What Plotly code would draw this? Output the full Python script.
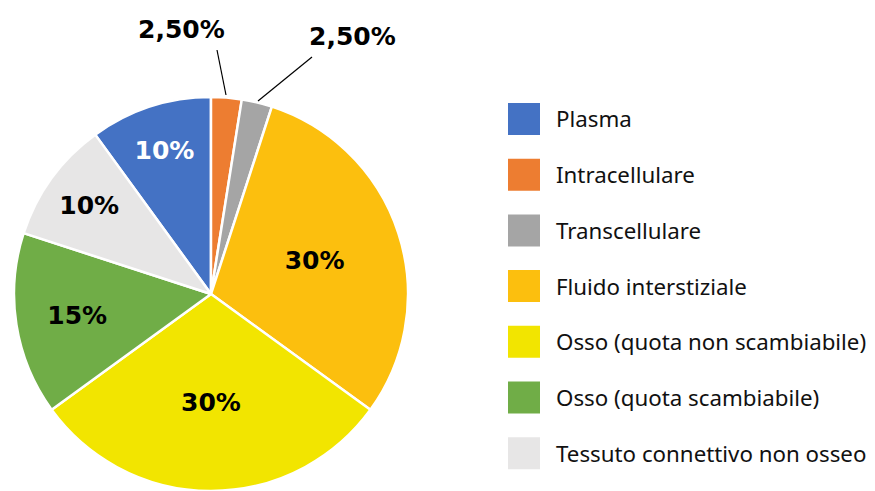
import plotly.graph_objects as go

# ---- data ----
categories = ["Plasma", "Intracellulare", "Transcellulare", "Fluido interstiziale",
              "Osso (quota non scambiabile)", "Osso (quota scambiabile)",
              "Tessuto connettivo non osseo"]
values = [10, 2.5, 2.5, 30, 30, 15, 10]
colors = ["#4472C4", "#ED7D31", "#A5A5A5", "#FCBF0E", "#F2E500", "#70AD47", "#E7E6E6"]
label_colors = ["white", "black", "black", "black", "black", "black", "black"]

W, H = 875, 491


def px(x):
    return x / W


def py(y):
    return 1 - y / H


def fmt(v):
    return f"{v:.2f}".replace(".", ",") + "%" if v < 5 else f"{v:g}%"


texts = [fmt(v) for v in values]
small = [i for i, v in enumerate(values) if v < 5]
inside_texts = ["" if i in small else t for i, t in enumerate(texts)]

LABEL_FONT = "DejaVu Sans"

# pie geometry (window pixels)
cx, cy, r = 211, 294, 197

fig = go.Figure(go.Pie(
    labels=categories, values=values, sort=False, direction="clockwise",
    rotation=-360 * values[0] / sum(values),
    marker=dict(colors=colors, line=dict(color="white", width=2.5)),
    text=inside_texts, textinfo="text", textposition="inside",
    insidetextorientation="horizontal",
    textfont=dict(family=LABEL_FONT, size=25, color=label_colors, weight="bold"),
    domain=dict(x=[px(cx - r), px(cx + r)], y=[max(0, py(cy + r)), py(cy - r)]),
    showlegend=False, hoverinfo="label+percent",
))

# outside labels for small slices with leader lines
label_px = [(181, 30), (352, 36)]
line_px = [((217, 50), (226, 95)), ((312, 57), (258, 101))]
for k, i in enumerate(small):
    tx, ty = label_px[k]
    fig.add_annotation(x=px(tx), y=py(ty), xref="paper", yref="paper",
                       xanchor="center", yanchor="middle",
                       text=texts[i], showarrow=False,
                       font=dict(family=LABEL_FONT, size=25, color="black", weight="bold"))
    (x0, y0), (x1, y1) = line_px[k]
    fig.add_shape(type="line", xref="paper", yref="paper",
                  x0=px(x0), y0=py(y0), x1=px(x1), y1=py(y1),
                  line=dict(color="black", width=1.2))

# custom legend
sq = 32
lx = 508
y_first, step = 119, 55.7
for i, (c, name) in enumerate(zip(colors, categories)):
    yc = y_first + i * step
    fig.add_shape(type="rect", xref="paper", yref="paper",
                  x0=px(lx), x1=px(lx + sq),
                  y0=py(yc - sq / 2), y1=py(yc + sq / 2),
                  fillcolor=c, line=dict(width=0))
    fig.add_annotation(x=px(554), y=py(yc), xref="paper", yref="paper",
                       xanchor="left", yanchor="middle", text=name, showarrow=False,
                       font=dict(family="Noto Sans", size=22.3, color="#111111"))

fig.update_layout(width=W, height=H, margin=dict(l=0, r=0, t=0, b=0),
                  paper_bgcolor="white", plot_bgcolor="white")

fig.write_html(
    "out.html",
    config={"displayModeBar": False},
    post_script="document.body.style.margin='0';document.body.style.overflow='hidden';",
)
